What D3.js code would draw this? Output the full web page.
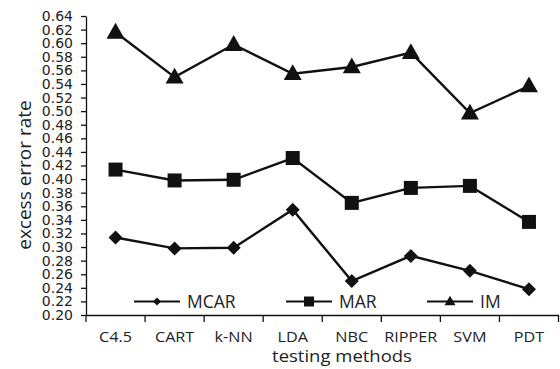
<!DOCTYPE html>
<html><head><meta charset="utf-8">
<script src="https://cdn.jsdelivr.net/npm/d3@7"></script>
<style>body{margin:0;background:#fff}svg{display:block}</style>
</head><body><div id="chart"></div>
<script>
const categories = ["C4.5","CART","k-NN","LDA","NBC","RIPPER","SVM","PDT"];
const mcar = [0.314,0.298,0.299,0.355,0.250,0.287,0.265,0.238];
const mar  = [0.414,0.398,0.399,0.431,0.365,0.387,0.390,0.337];
const im   = [0.616,0.550,0.598,0.555,0.565,0.586,0.497,0.537];
const seriesNames = ["MCAR","MAR","IM"];
const yTicks = d3.range(0.20, 0.6401, 0.02);

const W = 560, H = 369;
const m = {left:86, right:2, top:16, bottom:54};
const svg = d3.select("#chart").append("svg").attr("width",W).attr("height",H);
const x = d3.scaleBand().domain(categories).range([m.left, 558.5]);
const y = d3.scaleLinear().domain([0.20,0.64]).range([315,16]);
const col = "#111";

function stretch(sel, factor){
  sel.each(function(){
    const len = this.getComputedTextLength();
    d3.select(this).attr("textLength", len*factor).attr("lengthAdjust","spacingAndGlyphs");
  });
}

// axes
const yAxis = svg.append("g").attr("transform",`translate(${m.left},0)`)
  .call(d3.axisLeft(y).tickValues(yTicks).tickFormat(d3.format(".2f")).tickSize(5).tickSizeOuter(0));
yAxis.select(".domain").attr("stroke",col).attr("stroke-width",1.3);
yAxis.selectAll(".tick line").attr("stroke",col).attr("stroke-width",1.3);
yAxis.selectAll("text").attr("x",-13).attr("font-family","DejaVu Sans").attr("font-size",14).attr("fill","#222");

const xAxis = svg.append("g").attr("transform",`translate(0,315)`)
  .call(d3.axisBottom(x).tickSize(0).tickSizeOuter(0));
xAxis.select(".domain").attr("stroke",col).attr("stroke-width",1.3);
const xt = xAxis.selectAll("text").attr("y",27).attr("dy",0).attr("font-family","Open Sans").attr("font-size",15).attr("fill","#222");
stretch(xt, 1.08);
// tick marks at band boundaries
const bounds = categories.map(c=>x(c)).concat([x.range()[1]]);
svg.append("g").selectAll("line").data(bounds).join("line")
  .attr("x1",d=>d).attr("x2",d=>d).attr("y1",315).attr("y2",322)
  .attr("stroke",col).attr("stroke-width",1.3);

const xTitle = svg.append("text").attr("x",342).attr("y",362).attr("text-anchor","middle")
  .attr("font-family","Open Sans").attr("font-size",16.5).attr("fill","#222").text("testing methods");
stretch(xTitle, 1.12);
svg.append("text").attr("transform","translate(31,175) rotate(-90)").attr("text-anchor","middle")
  .attr("font-family","Open Sans").attr("font-size",19).attr("fill","#222").text("excess error rate");

const cx = c => x(c) + x.bandwidth()/2;
const line = d3.line().x((d,i)=>cx(categories[i])).y(d=>y(d));
const data = [mcar, mar, im];
const sizes = [[14,8],[14,10],[18,11]];

function marker(g, k, px, py, s){
  if(k===0){ // diamond
    g.append("path").attr("d",`M${px},${py-s/2}L${px+s/2},${py}L${px},${py+s/2}L${px-s/2},${py}Z`).attr("fill",col);
  } else if(k===1){
    g.append("rect").attr("x",px-s/2).attr("y",py-s/2).attr("width",s).attr("height",s).attr("fill",col);
  } else {
    const h = s*0.88;
    g.append("path").attr("d",`M${px},${py-h*0.6}L${px+s/2},${py+h*0.4}L${px-s/2},${py+h*0.4}Z`).attr("fill",col);
  }
}

data.forEach((vals,k)=>{
  svg.append("path").datum(vals).attr("d",line).attr("fill","none").attr("stroke",col).attr("stroke-width",2.4);
  const g = svg.append("g");
  vals.forEach((v,i)=>marker(g,k,cx(categories[i]),y(v),sizes[k][0]));
});

// legend
const legX = [134, 286, 427];
const ly = 301.5;
seriesNames.forEach((n,k)=>{
  const g = svg.append("g");
  g.append("line").attr("x1",legX[k]).attr("x2",legX[k]+46).attr("y1",ly).attr("y2",ly).attr("stroke",col).attr("stroke-width",2);
  marker(g,k,legX[k]+23,ly,sizes[k][1]);
  g.append("text").attr("x",legX[k]+53).attr("y",ly+6.5).attr("font-family","Open Sans").attr("font-size",17.5).attr("fill","#222").text(n);
});
</script></body></html>
